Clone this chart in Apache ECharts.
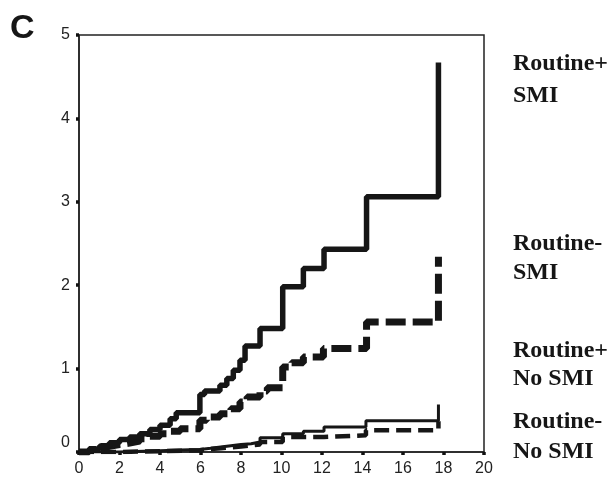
<!DOCTYPE html>
<html>
<head>
<meta charset="utf-8">
<script src="https://cdn.jsdelivr.net/npm/echarts@6/dist/echarts.min.js"></script>
<style>
html,body{margin:0;padding:0;background:#fff;}
#chart{width:616px;height:478px;}
</style>
</head>
<body>
<div id="chart"></div>
<script>
// ---- data (years vs cumulative hazard) ----
const xTicks = [0, 2, 4, 6, 8, 10, 12, 14, 16, 18, 20];
const yTicks = [0, 1, 2, 3, 4, 5];

const routinePlusSmiTimes  = [0, 0.5, 1, 1.5, 2, 2.5, 3, 3.5, 4, 4.5, 4.8, 5.97, 6.2, 6.96, 7.3, 7.62, 7.95, 8.2, 8.94, 10.06, 11.08, 12.1, 14.2, 17.75];
const routinePlusSmiValues = [0, 0.03, 0.07, 0.11, 0.15, 0.18, 0.22, 0.27, 0.32, 0.4, 0.47, 0.69, 0.73, 0.8, 0.88, 0.98, 1.1, 1.27, 1.48, 1.98, 2.2, 2.43, 3.06, 4.67];

const routineMinusSmiTimes  = [0, 0.5, 1, 1.5, 2, 2.5, 3, 3.5, 4, 4.5, 5, 5.97, 6.3, 6.96, 7.5, 7.95, 8.3, 8.94, 9.3, 10.06, 10.5, 11.08, 12.07, 14.2, 17.75];
const routineMinusSmiValues = [0, 0.03, 0.067, 0.09, 0.107, 0.13, 0.16, 0.19, 0.22, 0.25, 0.28, 0.38, 0.42, 0.46, 0.52, 0.6, 0.66, 0.73, 0.77, 1.02, 1.07, 1.14, 1.24, 1.56, 2.34];

const routinePlusNoSmiTimes  = [0, 2, 4, 5, 5.97, 6.5, 7, 7.5, 8, 8.5, 8.94, 10.06, 11.08, 12.1, 14.17, 17.75];
const routinePlusNoSmiValues = [0, 0.015, 0.025, 0.03, 0.045, 0.06, 0.075, 0.09, 0.1, 0.12, 0.17, 0.22, 0.25, 0.3, 0.375, 0.57];

const routineMinusNoSmiTimes  = [0, 2, 4, 5.97, 6.5, 7, 7.5, 8, 8.5, 8.94, 10.06, 12.1, 14.17, 17.75];
const routineMinusNoSmiValues = [0, 0.01, 0.02, 0.035, 0.045, 0.055, 0.065, 0.08, 0.09, 0.12, 0.18, 0.2, 0.26, 0.37];

const labelLines = [
  ['Routine+', 'SMI'],
  ['Routine-', 'SMI'],
  ['Routine+', 'No SMI'],
  ['Routine-', 'No SMI']
];

// ---- build ----
function zip(t, v) { return t.map((x, i) => [x, v[i]]); }

const INK = '#161616';
const FONT_SANS = '"Liberation Sans", Arial, sans-serif';
const chart = echarts.init(document.getElementById('chart'), null, {renderer: 'canvas'});

const labelCenters = [[64, 96], [244, 273], [351, 379], [422, 452]];
const graphics = [{
  type: 'text', x: 10, y: 29,
  style: {text: 'C', font: 'bold 34px ' + FONT_SANS, fill: INK, textAlign: 'left', textVerticalAlign: 'middle', verticalAlign: 'middle'}
}];
labelLines.forEach((lines, i) => {
  lines.forEach((ln, j) => {
    graphics.push({
      type: 'text', x: 513, y: labelCenters[i][j],
      style: {text: ln, font: 'bold 24px "Liberation Serif", "Times New Roman", serif', fill: INK, textAlign: 'left', textVerticalAlign: 'middle', verticalAlign: 'middle'}
    });
  });
});

const axisCommon = {
  axisLine: {show: true, lineStyle: {color: '#222', width: 1.5}},
  axisTick: {show: true, inside: false, length: 3, lineStyle: {color: '#111', width: 3.5}},
  splitLine: {show: false},
  axisLabel: {color: '#222', fontSize: 16, fontFamily: FONT_SANS}
};

chart.setOption({
  animation: false,
  backgroundColor: '#fff',
  grid: {left: 79, right: 132, top: 35, bottom: 26, show: true, borderColor: '#222', borderWidth: 1.5, backgroundColor: 'transparent'},
  xAxis: Object.assign({}, axisCommon, {
    type: 'value', min: xTicks[0], max: xTicks[xTicks.length - 1], interval: 2,
    axisLabel: Object.assign({}, axisCommon.axisLabel, {margin: 9})
  }),
  yAxis: Object.assign({}, axisCommon, {
    type: 'value', min: yTicks[0], max: yTicks[yTicks.length - 1], interval: 1,
    axisLabel: Object.assign({}, axisCommon.axisLabel, {
      margin: 9,
      formatter: v => (v === 0 ? '{lo|0}' : String(v)),
      rich: {lo: {fontSize: 16, fontFamily: FONT_SANS, color: '#222', padding: [0, 0, 19, 0]}}
    })
  }),
  graphic: graphics,
  series: [
    {name: 'Routine+ SMI', type: 'line', step: 'end', showSymbol: false, symbol: 'none',
     data: zip(routinePlusSmiTimes, routinePlusSmiValues),
     lineStyle: {color: INK, width: 5.5, type: 'solid'}, z: 4},
    {name: 'Routine- SMI', type: 'line', step: 'end', showSymbol: false, symbol: 'none',
     data: zip(routineMinusSmiTimes, routineMinusSmiValues),
     lineStyle: {color: INK, width: 7, type: [20, 7], cap: 'butt'}, z: 3},
    {name: 'Routine+ No SMI', type: 'line', step: 'end', showSymbol: false, symbol: 'none',
     data: zip(routinePlusNoSmiTimes, routinePlusNoSmiValues),
     lineStyle: {color: INK, width: 3, type: 'solid'}, z: 2},
    {name: 'Routine- No SMI', type: 'line', step: 'end', showSymbol: false, symbol: 'none',
     data: zip(routineMinusNoSmiTimes, routineMinusNoSmiValues),
     lineStyle: {color: INK, width: 4.5, type: [15, 7], cap: 'butt'}, z: 2}
  ]
});
</script>
</body>
</html>
